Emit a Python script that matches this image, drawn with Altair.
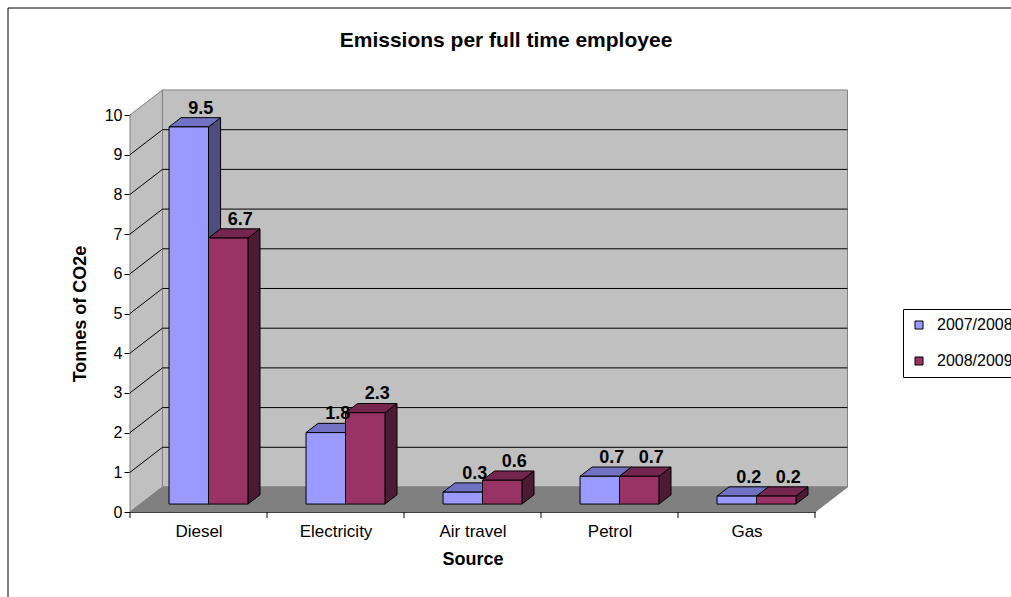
import altair as alt
import pandas as pd

# ---- data ----
sources = ["Diesel", "Electricity", "Air travel", "Petrol", "Gas"]
series = ["2007/2008", "2008/2009"]
v_0708 = [9.5, 1.8, 0.3, 0.7, 0.2]
v_0809 = [6.7, 2.3, 0.6, 0.7, 0.2]
y_ticks = list(range(0, 11))
title_text = "Emissions per full time employee"

# ---- styling / 3-D look constants (data units of the scales) ----
W, H = 685, 397
XMAX, YMAX = len(sources), 10
DX, DY = 0.237, 0.63          # wall depth
BX, BY = 0.088, 0.233         # bar depth
FX, FY = 0.285, 0.20          # bar front-face offset inside a band
BW = 0.288                    # bar width
FONT = "Liberation Sans"

front_col = {"2007/2008": "#9999FF", "2008/2009": "#993366"}
top_col = {"2007/2008": "#7272C4", "2008/2009": "#74264F"}
side_col = {"2007/2008": "#4D4D80", "2008/2009": "#4D1A33"}

vals = {series[0]: v_0708, series[1]: v_0809}
bars, tops, sides = [], [], []
for k, src in enumerate(sources):
    for s, ser in enumerate(series):
        v = vals[ser][k]
        x0 = k + FX + s * BW
        x1 = x0 + BW
        y0 = FY
        y1 = v + FY
        bid = f"{src}-{ser}"
        bars.append(dict(id=bid, src=src, series=ser, x0=x0, x1=x1, y0=y0, y1=y1,
                         lx=(x0 + x1) / 2 + BX, ly=y1 + BY, label=f"{v:.1f}"))
        tops.append(dict(id=bid, c=top_col[ser], y=y1, xl=x0, xr=x1))
        tops.append(dict(id=bid, c=top_col[ser], y=y1 + BY, xl=x0 + BX, xr=x1 + BX))
        sides.append(dict(id=bid, c=side_col[ser], x=x1, ylo=y0, yhi=y1))
        sides.append(dict(id=bid, c=side_col[ser], x=x1 + BX, ylo=y0 + BY, yhi=y1 + BY))
bars = pd.DataFrame(bars)
tops = pd.DataFrame(tops)
sides = pd.DataFrame(sides)

xs = alt.Scale(domain=[0, XMAX], nice=False, zero=False)
ys = alt.Scale(domain=[0, YMAX], nice=False, zero=False)

label_expr = "[" + ",".join(f"'{s}'" for s in sources) + "][floor(datum.value)]"
AXX = alt.Axis(
    values=[k + 0.5 for k in range(XMAX)], labelExpr=label_expr, ticks=False,
    grid=False, domainColor="black", domainWidth=1, labelFont=FONT, labelFontSize=17,
    labelColor="black", labelPadding=11, title="Source", titleFont=FONT, titleFontSize=18,
    titleFontWeight="bold", titleColor="black", titlePadding=11)
AXY = alt.Axis(
    values=y_ticks, grid=False, domainColor="black", domainWidth=1, tickColor="black",
    tickSize=6, labelFont=FONT, labelFontSize=16, labelColor="black", labelPadding=2,
    title="Tonnes of CO2e", titleFont=FONT, titleFontSize=18, titleFontWeight="bold",
    titleColor="black", titlePadding=15)


def X(f):
    return alt.X(f, type="quantitative", scale=xs, axis=AXX)


def Y(f):
    return alt.Y(f, type="quantitative", scale=ys, axis=AXY)


# back wall
wall = alt.Chart(pd.DataFrame({"a": [DX], "b": [XMAX + DX], "c": [DY], "d": [YMAX + DY]})).mark_rect(
    fill="#C0C0C0", stroke="#808080", strokeWidth=1
).encode(x=X("a"), x2="b", y=Y("c"), y2="d")

# left side wall
lw = pd.DataFrame({"x": [0, DX], "lo": [0, DY], "hi": [YMAX, YMAX + DY]})
left_wall = alt.Chart(lw).mark_area(fill="#C0C0C0", stroke="#808080", strokeWidth=1, orient="vertical").encode(
    x=X("x"), y=Y("lo"), y2="hi"
)

# floor
fl = pd.DataFrame({"y": [0, DY], "xl": [0, DX], "xr": [XMAX, XMAX + DX]})
floor = alt.Chart(fl).mark_area(fill="#808080", stroke="#808080", strokeWidth=1, orient="horizontal").encode(
    y=Y("y"), x=X("xl"), x2="xr"
)

# gridlines on back wall and connectors on the left wall
gv = pd.DataFrame({"v": y_ticks[1:-1]})
gv["vy"] = gv["v"] + DY
gv["a"] = DX
gv["b"] = XMAX + DX
grid_back = alt.Chart(gv).mark_rule(color="black", strokeWidth=1).encode(
    x=X("a"), x2="b", y=Y("vy")
)
gc = pd.DataFrame({"v": y_ticks[1:-1]})
gc["vy"] = gc["v"] + DY
gc["a"] = 0.0
gc["b"] = DX
grid_conn = alt.Chart(gc).mark_rule(color="black", strokeWidth=1).encode(
    x=X("a"), x2="b", y=Y("v"), y2="vy"
)

# category tick marks on the x axis
xt = pd.DataFrame({"p": [float(k) for k in range(XMAX + 1)]})
x_ticks = alt.Chart(xt).mark_rule(color="black", strokeWidth=1).encode(
    x=X("p"), y=alt.value(H), y2=alt.value(H + 6)
)

# bar faces
side_layer = alt.Chart(sides).mark_area(orient="vertical", stroke="black", strokeWidth=1).encode(
    x=X("x"), y=Y("ylo"), y2="yhi", detail="id:N", color=alt.Color("c:N", scale=None)
)
top_layer = alt.Chart(tops).mark_area(orient="horizontal", stroke="black", strokeWidth=1).encode(
    y=Y("y"), x=X("xl"), x2="xr", detail="id:N", color=alt.Color("c:N", scale=None)
)
front_layer = alt.Chart(bars).mark_rect(stroke="black", strokeWidth=1).encode(
    x=X("x0"), x2="x1", y=Y("y0"), y2="y1",
    color=alt.Color("series:N", scale=alt.Scale(domain=series, range=[front_col[s] for s in series]),
                    title=None),
)
labels = alt.Chart(bars).mark_text(
    font=FONT, fontSize=18, fontWeight="bold", color="black", baseline="alphabetic", dy=-4
).encode(x=X("lx"), y=Y("ly"), text="label:N")

# chart title and outer frame
title = alt.Chart(pd.DataFrame({"t": [title_text]})).mark_text(
    font=FONT, fontSize=21, fontWeight="bold", color="black", baseline="alphabetic", align="center"
).encode(text="t:N", x=alt.value(376), y=alt.value(-68))
frame = alt.Chart(pd.DataFrame({"a": [0]})).mark_rect(filled=False, stroke="black", strokeWidth=1).encode(
    x=alt.value(-122), x2=alt.value(895), y=alt.value(-107), y2=alt.value(495)
)

chart = alt.layer(
    frame, wall, left_wall, floor, grid_back, grid_conn, x_ticks,
    side_layer, top_layer, front_layer, labels, title
).properties(
    width=W, height=H,
    autosize=alt.AutoSizeParams(type="none"),
    padding={"left": 130, "top": 115, "right": 196, "bottom": 85},
).configure_view(strokeWidth=0).configure_legend(
    orient="none", legendX=773, legendY=194, strokeColor="black", padding=8,
    labelFont=FONT, labelFontSize=16, labelColor="black", labelOffset=10,
    symbolType="square", symbolSize=64, symbolStrokeColor="black", symbolStrokeWidth=1,
    rowPadding=20,
)

chart.save("out.html", embed_options={"renderer": "svg", "actions": False})
